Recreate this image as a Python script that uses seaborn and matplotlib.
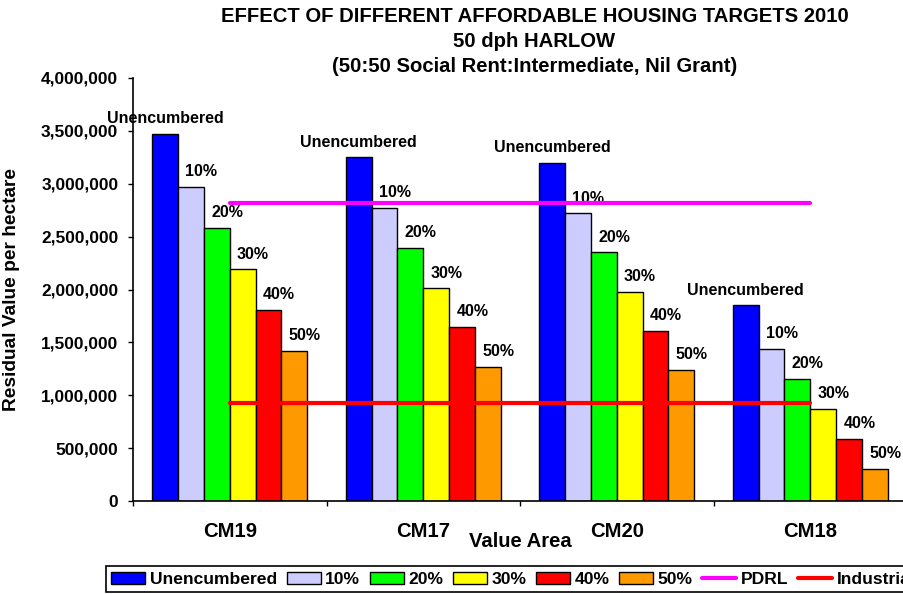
import pandas as pd
import numpy as np
import matplotlib.pyplot as plt
import seaborn as sns
import matplotlib.ticker as ticker
from matplotlib.patches import Patch
from matplotlib.lines import Line2D

# data
areas = ['CM19', 'CM17', 'CM20', 'CM18']
levels = ['Unencumbered', '10%', '20%', '30%', '40%', '50%']
unencumbered = [3470000, 3250000, 3200000, 1850000]
pct10 = [2970000, 2770000, 2720000, 1440000]
pct20 = [2585000, 2390000, 2350000, 1155000]
pct30 = [2190000, 2010000, 1980000, 870000]
pct40 = [1805000, 1645000, 1610000, 585000]
pct50 = [1420000, 1270000, 1240000, 300000]
pdrl = [2820000, 2820000, 2820000, 2820000]
industrial = [930000, 930000, 930000, 930000]

bar_colors = ['#0000FF', '#CCCCFF', '#00FF00', '#FFFF00', '#FF0000', '#FF9900']
pdrl_color = '#FF00FF'
ind_color = '#FF0000'

series = [unencumbered, pct10, pct20, pct30, pct40, pct50]
df = pd.DataFrame({
    'Area': areas * len(levels),
    'Level': np.repeat(levels, len(areas)),
    'Value': np.concatenate(series),
})

sns.set_theme(style='white')
plt.rcParams['font.family'] = ['Liberation Sans', 'DejaVu Sans']
plt.rcParams['font.weight'] = 'bold'
for key in ['text.color', 'axes.labelcolor', 'xtick.color', 'ytick.color']:
    plt.rcParams[key] = 'black'

fig = plt.figure(figsize=(9.04, 5.94), dpi=100)
ax = fig.add_axes([133 / 904, 93 / 594, 774 / 904, 423 / 594])

sns.barplot(data=df, x='Area', y='Value', hue='Level', order=areas, hue_order=levels,
            palette=bar_colors, saturation=1, width=0.8, edgecolor='black', linewidth=1,
            legend=False, ax=ax)

# benchmark lines
xpos = np.arange(len(areas))
ax.plot(xpos, pdrl, color=pdrl_color, lw=3, zorder=5)
ax.plot(xpos, industrial, color=ind_color, lw=3, zorder=5)

# bar labels
for lev, cont in zip(levels, ax.containers):
    dx = 0 if lev == 'Unencumbered' else 7.5
    for bar in cont:
        ax.annotate(lev, (bar.get_x() + bar.get_width() / 2, bar.get_height()),
                    xytext=(dx, 11), textcoords='offset points',
                    ha='center', va='center', fontsize=11.5, fontweight='bold', color='black')

ax.set_xlim(-0.5, 3.5)
ax.set_ylim(0, 4000000)
ax.yaxis.set_major_locator(ticker.MultipleLocator(500000))
ax.yaxis.set_major_formatter(ticker.FuncFormatter(lambda v, _: f'{v:,.0f}'))
ax.set_xticks(xpos)
ax.set_xticklabels(areas)
ax.set_xticks(np.arange(len(areas) + 1) - 0.5, minor=True)
ax.tick_params(axis='x', which='major', length=0, pad=15, labelsize=14.6)
ax.tick_params(axis='x', which='minor', length=3.6, width=1, color='black', direction='out', bottom=True)
ax.tick_params(axis='y', length=3.6, width=1, color='black', direction='out', left=True, pad=7, labelsize=12.4)
for lab in ax.get_xticklabels() + ax.get_yticklabels():
    lab.set_fontweight('bold')

for s in ['top', 'right']:
    ax.spines[s].set_visible(False)
for s in ['left', 'bottom']:
    ax.spines[s].set_color('black')
    ax.spines[s].set_linewidth(1.2)

ax.set_xlabel('Value Area', fontsize=14.6, fontweight='bold')
ax.xaxis.set_label_coords(0.5, -0.074)
ax.set_ylabel('Residual Value per hectare', fontsize=13.8, fontweight='bold')
ax.yaxis.set_label_coords(-0.146, 0.5)

# title
tx = 534.5 / 904
fig.text(tx, 1 - 22 / 594, 'EFFECT OF DIFFERENT AFFORDABLE HOUSING TARGETS 2010',
         ha='center', va='baseline', fontsize=14.6, fontweight='bold')
fig.text(tx, 1 - 47 / 594, '50 dph HARLOW',
         ha='center', va='baseline', fontsize=14.6, fontweight='bold')
fig.text(tx, 1 - 72 / 594, '(50:50 Social Rent:Intermediate, Nil Grant)',
         ha='center', va='baseline', fontsize=14.6, fontweight='bold')

# legend
handles = [Patch(facecolor=c, edgecolor='black', linewidth=1) for c in bar_colors]
handles += [Line2D([], [], color=pdrl_color, lw=3), Line2D([], [], color=ind_color, lw=3)]
leg = fig.legend(handles, levels + ['PDRL', 'Industrial'], loc='lower left',
                 bbox_to_anchor=(106 / 904, 2 / 594), ncol=8, frameon=True, fancybox=False,
                 edgecolor='black', framealpha=1, prop={'size': 12.6, 'weight': 'bold'},
                 handlelength=1.95, handleheight=0.7, handletextpad=0.25,
                 columnspacing=0.55, borderpad=0.3, borderaxespad=0)
leg.get_frame().set_linewidth(1.2)

fig.savefig('out.png', dpi=100)
